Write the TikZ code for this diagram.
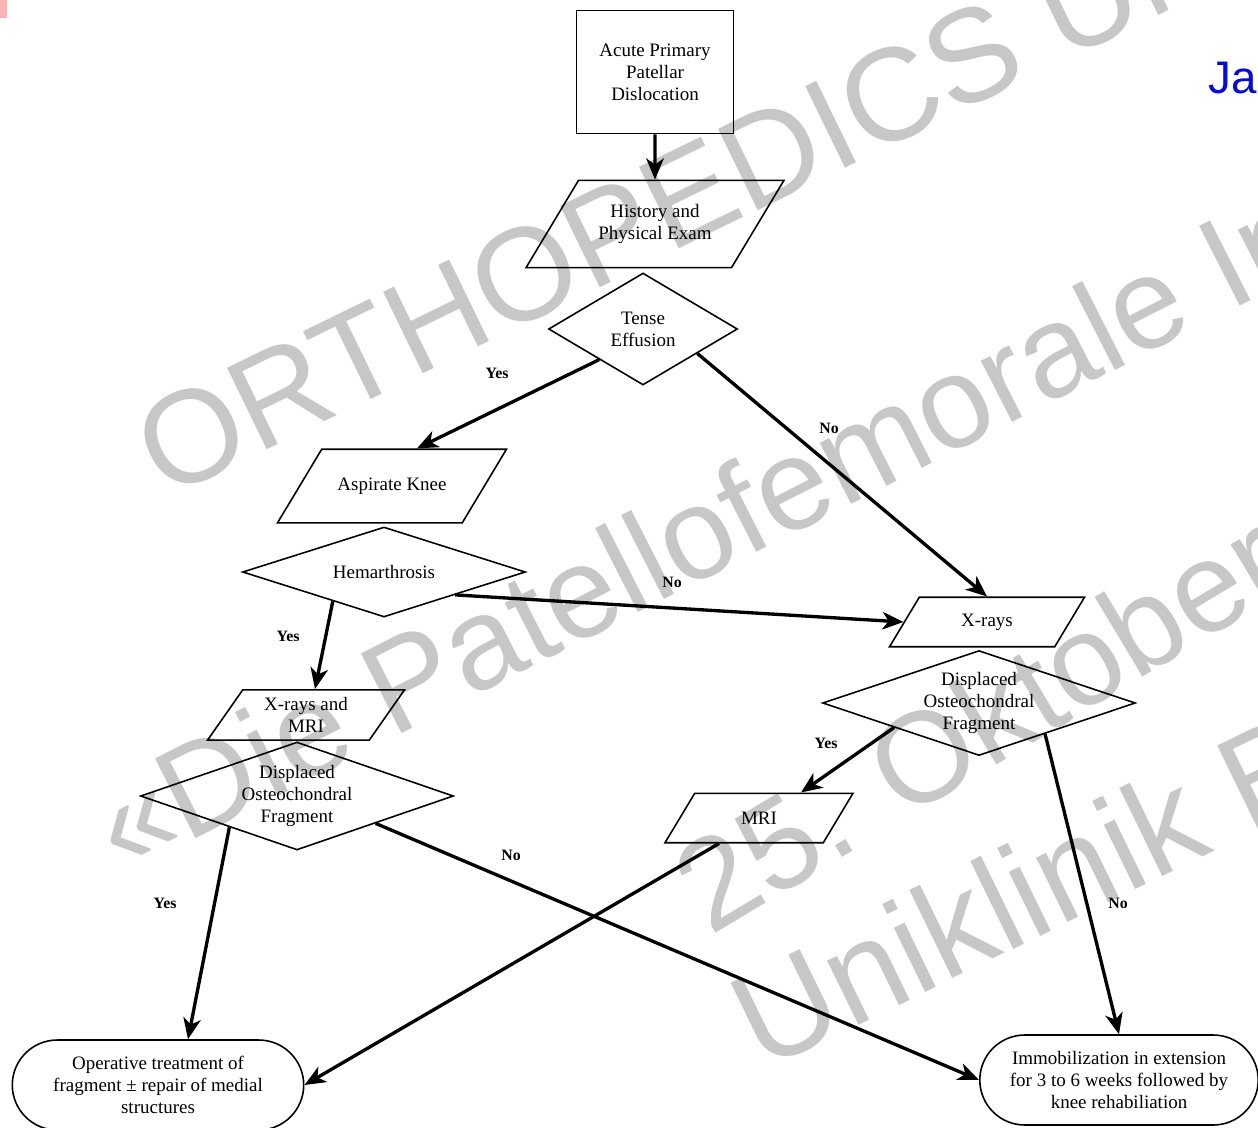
\documentclass[tikz,border=0pt]{standalone}
\usepackage{fontspec}
\setmainfont{Liberation Serif}
\newfontfamily\wmfont{Liberation Sans}
\usetikzlibrary{shapes.geometric,shapes.misc,arrows.meta,calc}

\tikzset{
  base/.style={draw, line width=0.9pt, align=center, inner sep=1pt,
    font=\fontsize{10.8}{12.6}\selectfont},
  process/.style={base, rectangle},
  iobox/.style={base, trapezium, trapezium stretches body, inner xsep=1pt},
  decision/.style={base, diamond, aspect=3},
  terminal/.style={base, rounded rectangle},
  flow/.style={line width=1.9pt, -{Stealth[length=12pt,width=10pt,inset=3.5pt]}},
  answer/.style={font=\bfseries\fontsize{9}{10}\selectfont},
  wmtext/.style={text=black!22, font=\wmfont\fontsize{#1}{#1}\selectfont,
    anchor=base west, inner sep=0pt}
}

\begin{document}
\begin{tikzpicture}[x=0.02cm, y=-0.02cm]
    \useasboundingbox (0,0) rectangle (1258,1127);
    \clip (0,0) rectangle (1258,1127);

    % Wasserzeichen
    \node[wmtext=75, rotate=26] (wmA) at (165,500) {ORTHOPEDICS Uni};
    \node[wmtext=74, rotate=27] (wmB) at (122,876) {«Die Patellofemorale In};
    \node[wmtext=73, rotate=31] (wmC) at (710,937) {25. Oktober 20};
    \node[wmtext=77, rotate=26] (wmD) at (762,1072) {Uniklinik Ba};
    \node[anchor=base west, inner sep=0pt, text={rgb,255:red,10;green,10;blue,215},
      font=\wmfont\fontsize{26}{30}\selectfont] (ja) at (1208,93) {Ja};
    \fill[red!30] (0,0) rectangle (7,18);

    % Kasten und Rauten
    \node[process, minimum width=3.14cm, minimum height=2.46cm] (start) at (655,72)
      {Acute Primary\\ Patellar\\ Dislocation};
    \node[iobox, trapezium left angle=59, trapezium right angle=121,
      inner ysep=0.48cm, minimum width=5.16cm] (hist) at (655,224)
      {History and\\ Physical Exam};
    \node[decision, aspect=1.7, minimum width=3.78cm, minimum height=2.24cm] (tense) at (643,329)
      {Tense\\ Effusion};
    \node[iobox, trapezium left angle=59, trapezium right angle=121,
      inner ysep=0.57cm, minimum width=4.58cm] (asp) at (392,486)
      {Aspirate Knee};
    \node[decision, minimum width=5.66cm, minimum height=1.8cm] (hem) at (384,572)
      {Hemarthrosis};
    \node[iobox, trapezium left angle=55, trapezium right angle=125,
      inner ysep=0.15cm, minimum width=3.94cm] (xmri) at (306,715)
      {X-rays and\\ MRI};
    \node[decision, minimum width=6.26cm, minimum height=2.16cm] (disl) at (297,796)
      {Displaced\\ Osteochondral\\ Fragment};
    \node[iobox, trapezium left angle=59, trapezium right angle=121,
      inner ysep=0.33cm, minimum width=3.9cm] (xr) at (987,622)
      {X-rays};
    \node[decision, minimum width=6.26cm, minimum height=2.1cm] (disr) at (979,703)
      {Displaced\\ Osteochondral\\ Fragment};
    \node[iobox, trapezium left angle=59, trapezium right angle=121,
      inner ysep=0.37cm, minimum width=3.76cm] (mri) at (759,818)
      {MRI};
    \node[terminal, minimum width=5.9cm, minimum height=1.8cm] (oper) at (158,1085)
      {Operative treatment of\\ fragment ± repair of medial\\ structures};
    \node[terminal, minimum width=5.64cm, minimum height=1.8cm] (immob) at (1119,1080)
      {Immobilization in extension\\ for 3 to 6 weeks followed by\\ knee rehabiliation};

    % Pfeile
    \draw[flow] (start) -- (hist);
    \draw[flow] ($(tense.south)!0.46!(tense.west)$) -- ($(asp.north)+(25,0)$);
    \draw[flow] ($(tense.south)!0.57!(tense.east)$) -- (xr.north);
    \draw[flow] ($(hem.south)!0.5!(hem.east)$) -- (xr.west);
    \draw[flow] ($(hem.south)!0.36!(hem.west)$) -- ($(xmri.north)+(9,0)$);
    \draw[flow] ($(disl.south)!0.43!(disl.west)$) -- ($(oper.north)+(30,0)$);
    \draw[flow] ($(disl.south)!0.5!(disl.east)$) -- (immob.west);
    \draw[flow] ($(disr.south)!0.54!(disr.west)$) -- ($(mri.north)+(42,0)$);
    \draw[flow] ($(disr.south)!0.42!(disr.east)$) -- (immob.north);
    \draw[flow] ($(mri.south)+(-40,0)$) -- (oper.east);

    % Ja / Nein
    \node[answer] (y1) at (497,373) {Yes};
    \node[answer] (n1) at (829,428) {No};
    \node[answer] (n2) at (672,582) {No};
    \node[answer] (y2) at (288,636) {Yes};
    \node[answer] (y3) at (165,903) {Yes};
    \node[answer] (n3) at (511,855) {No};
    \node[answer] (y4) at (826,743) {Yes};
    \node[answer] (n4) at (1118,903) {No};
\end{tikzpicture}
\end{document}
